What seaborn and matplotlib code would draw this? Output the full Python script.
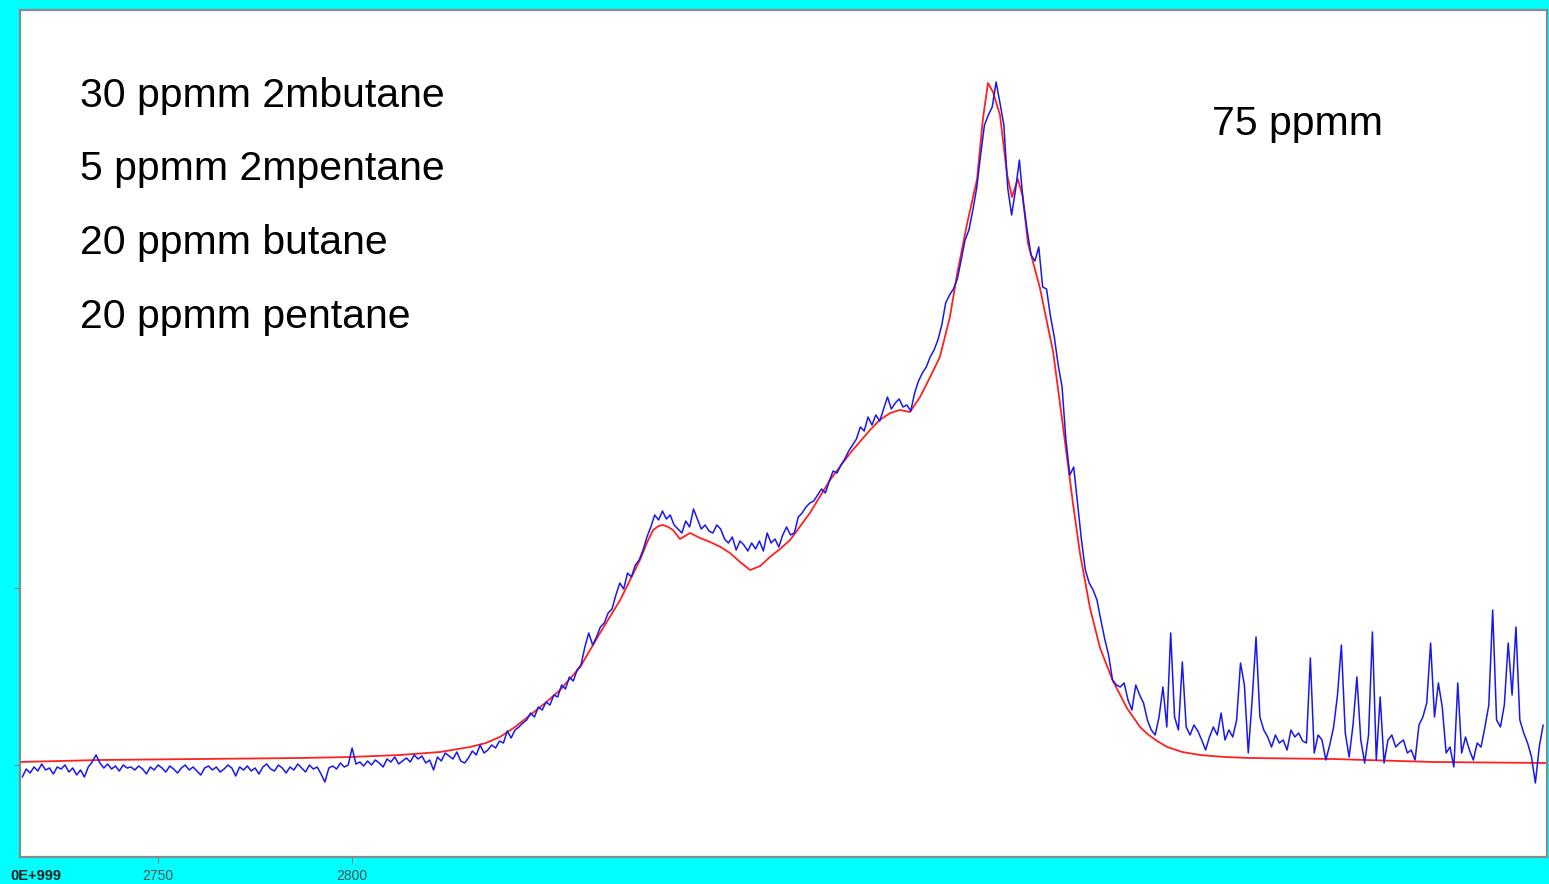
import numpy as np
import pandas as pd
import seaborn as sns
import matplotlib.pyplot as plt

# measured spectrum (blue), 1 cm-1 grid starting at 2715 cm-1, signal in mAU
wn_start = 2715
measured = [
    -12, -4, -8, -2, -6, 1, -5, -3, -9, -2,
    -4, 0, -7, -3, -10, -5, -12, -2, 3, 10,
    2, -3, 1, -4, -1, -6, 0, -3, -2, -5,
    -1, -4, -9, -2, -5, 0, -3, -7, -1, -4,
    -8, -3, 0, -5, -2, -6, -10, -3, -1, -5,
    -2, -7, -4, 0, -3, -11, -2, -5, -1, -6,
    -3, -9, -2, 1, -4, -6, 0, -3, -8, -2,
    -5, 1, -3, -7, 0, -4, -2, -9, -17, -3,
    -1, -4, 2, -2, 0, 17, 1, 3, -1, 4,
    0, 5, 2, -2, 6, 3, 8, 1, 4, 7,
    3, 10, 6, 9, 2, 5, -5, 8, 4, 12,
    9, 6, 13, 4, 2, 7, 14, 10, 20, 12,
    15, 20, 17, 24, 22, 34, 27, 35, 38, 42,
    45, 52, 48, 58, 55, 63, 60, 70, 68, 80,
    76, 88, 84, 95, 100, 118, 132, 120, 128, 138,
    142, 152, 156, 170, 182, 176, 192, 188, 200, 205,
    215, 228, 238, 250, 245, 254, 246, 250, 240, 236,
    232, 244, 238, 256, 246, 236, 240, 234, 232, 240,
    236, 226, 222, 228, 215, 224, 220, 214, 222, 216,
    224, 214, 232, 222, 226, 218, 230, 238, 230, 232,
    248, 252, 258, 262, 264, 270, 276, 272, 284, 294,
    292, 300, 306, 314, 320, 326, 338, 334, 348, 340,
    350, 344, 356, 368, 356, 362, 366, 358, 360, 354,
    372, 384, 392, 398, 408, 415, 425, 440, 462, 470,
    476, 486, 505, 525, 535, 555, 577, 610, 640, 650,
    658, 683, 662, 640, 577, 550, 575, 605, 563, 535,
    510, 504, 518, 478, 476, 449, 428, 400, 378, 325,
    290, 298, 262, 225, 195, 182, 175, 165, 145, 126,
    110, 85, 80, 78, 82, 65, 55, 80, 70, 62,
    45, 35, 30, 48, 78, 38, 132, 48, 35, 103,
    38, 30, 40, 34, 25, 15, 28, 38, 30, 52,
    25, 35, 28, 45, 102, 80, 12, 65, 128, 48,
    35, 28, 18, 30, 22, 25, 15, 35, 28, 32,
    24, 22, 107, 12, 30, 25, 5, 20, 38, 70,
    120, 32, 8, 40, 88, 25, 2, 30, 133, 5,
    68, 2, 25, 30, 18, 22, 25, 12, 15, 5,
    40, 48, 62, 122, 48, 82, 58, 12, 18, -2,
    82, 12, 28, 15, 5, 22, 18, 38, 60, 155,
    45, 38, 60, 122, 70, 138, 45, 32, 22, 8,
    -18, 18, 40,
]
measured_wn = np.arange(wn_start, wn_start + len(measured))

# fitted model (red)
fit_wn = [2714.4, 2735.1, 2760.8, 2786.6, 2799.5, 2812.4, 2822.7, 2830.4, 2834.5,
          2838.1, 2842.0, 2845.9, 2849.8, 2853.6, 2858.8, 2863.9, 2869.1, 2874.2,
          2876.2, 2877.6, 2879.0, 2880.2, 2881.5, 2882.7, 2884.5, 2887.1, 2889.7,
          2892.3, 2895.0, 2897.4, 2900.0, 2902.6, 2905.2, 2907.7, 2910.3, 2912.9,
          2918.0, 2923.2, 2928.4, 2933.5, 2936.0, 2938.7, 2941.2, 2943.8, 2946.4,
          2949.0, 2951.5, 2954.1, 2955.9, 2958.5, 2961.1, 2962.6, 2963.9, 2965.2,
          2967.0, 2968.8, 2970.1, 2971.6, 2972.9, 2974.2, 2977.3, 2980.7, 2983.2,
          2985.8, 2987.6, 2990.2, 2992.8, 2994.5, 2996.1, 2998.0, 2999.7, 3001.5,
          3003.1, 3005.0, 3007.5, 3010.1, 3014.0, 3018.6, 3025.0, 3031.4, 3052.8,
          3078.6, 3108.0]
fit_val = [3, 5, 6, 7, 8, 10, 13, 18, 22,
           28, 38, 50, 62, 75, 98, 132, 165, 205,
           224, 235, 239, 240, 238, 235, 226, 232, 227,
           223, 218, 212, 203, 195, 199, 208, 216, 225,
           252, 285, 312, 335, 345, 352, 355, 353, 368,
           388, 408, 448, 490, 541, 586, 646, 682, 673,
           650, 591, 568, 586, 568, 522, 477, 413, 340,
           262, 212, 157, 117, 100, 84, 70, 57, 47,
           38, 31, 24, 18, 13, 10, 8, 7, 6,
           3, 2]

labels_left = ["30 ppmm 2mbutane", "5 ppmm 2mpentane", "20 ppmm butane", "20 ppmm pentane"]
label_total = "75 ppmm"
xtick_vals = [2750, 2800]
ytick_vals = [0, 177]

meas_df = pd.DataFrame({"wn": measured_wn, "signal": measured})
fit_df = pd.DataFrame({"wn": fit_wn, "signal": fit_val})

sns.set_theme(style="white")
plt.rcParams["font.family"] = ["Liberation Sans", "DejaVu Sans"]

cyan = "#00FFFF"
fig = plt.figure(figsize=(15.49, 8.84), dpi=100, facecolor=cyan)
ax = fig.add_axes([20 / 1549, 27 / 884, 1527 / 1549, 847 / 884])
ax.set_facecolor("white")

sns.lineplot(data=fit_df, x="wn", y="signal", ax=ax, color="#FF2020", lw=1.3)
sns.lineplot(data=meas_df, x="wn", y="signal", ax=ax, color="#1818EE", lw=1.1)

ax.set_xlim(2714.4, 3108.0)
ax.set_ylim(-92, 755)
ax.set_xlabel("")
ax.set_ylabel("")

for s in ax.spines.values():
    s.set_color("#7f8f8f")
    s.set_linewidth(1.6)

ax.set_xticks(xtick_vals)
ax.set_xticklabels([str(v) for v in xtick_vals], fontsize=10, color="#505050")
ax.set_yticks(ytick_vals)
ax.set_yticklabels([])
ax.tick_params(axis="both", direction="out", length=4, width=0.8, color="#808080",
               bottom=True, left=True, pad=5)

fig.text(10 / 1549, 1 - 876 / 884, "0E+999", ha="left", va="center",
         fontsize=10.5, fontweight="bold", color="#202020")

baselines = [0.8855, 0.7993, 0.7119, 0.6246]
for txt, yb in zip(labels_left, baselines):
    ax.text(0.0393, yb, txt, transform=ax.transAxes, fontsize=29.5,
            ha="left", va="baseline", color="black")
ax.text(0.7806, 0.8524, label_total, transform=ax.transAxes, fontsize=29.5,
        ha="left", va="baseline", color="black")

fig.savefig("out.png", dpi=100, facecolor=cyan)
